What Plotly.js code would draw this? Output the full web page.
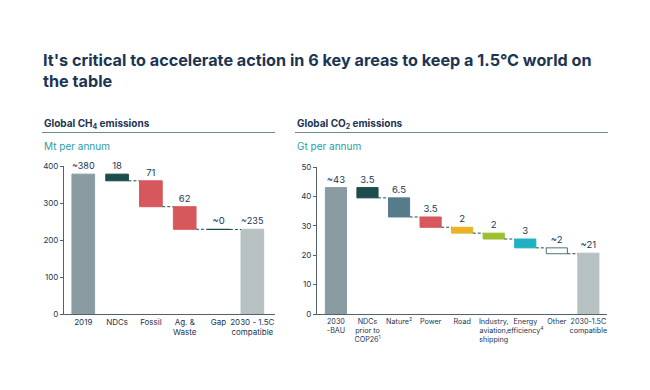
<!DOCTYPE html>
<html>
<head>
<meta charset="utf-8">
<script src="https://cdn.plot.ly/plotly-3.0.1.min.js"></script>
<style>html,body{margin:0;padding:0;background:#fff;}#chart{width:650px;height:390px;}</style>
</head>
<body>
<div id="chart"></div>
<script>
// ---- Data: Global CH4 emissions (Mt per annum)
const ch4Categories = ["2019", "NDCs", "Fossil", "Ag. &<br>Waste", "Gap", "2030 - 1.5C<br>compatible"];
const ch4Start = 378;
const ch4Reductions = [18, 70, 61, 0.6];
const ch4End = 229;
const ch4Labels = ["~380", "18", "71", "62", "~0", "~235"];
const ch4Colors = ["#8a9ca1", "#1d4d4b", "#d6575c", "#d6575c", "#1d4d4b", "#b7c1c1"];

// ---- Data: Global CO2 emissions (Gt per annum)
const co2Categories = ["2030<br>-BAU", "NDCs<br>prior to<br>COP26<sup>1</sup>", "Nature<sup>2</sup>", "Power", "Road",
  "Industry,<br>aviation,<br>shipping", "Energy<br>efficiency<sup>4</sup>", "Other", "2030-1.5C<br>compatible"];
const co2Start = 43;
const co2Reductions = [3.5, 6.5, 3.5, 2, 2, 3, 2];
const co2End = 20.7;
const co2Labels = ["~43", "3.5", "6.5", "3.5", "2", "2", "3", "~2", "~21"];
const co2Colors = ["#8a9ca1", "#1d4d4b", "#587b8b", "#d6575c", "#e8b425", "#9cc02f", "#1fb0c1", "#ffffff", "#b7c1c1"];

const textColor = "#1b3553";
const FONT = "Inter, 'Noto Sans', sans-serif";

function waterfall(start, reductions, end) {
  const base = [0], h = [start];
  let level = start;
  reductions.forEach(r => { base.push(level - r); h.push(r); level -= r; });
  base.push(0); h.push(end);
  return {base, h};
}

const W = 0.67;
function buildTraces(cats, start, reds, end, labels, colors, xa, ya, outlineIdx) {
  const wf = waterfall(start, reds, end);
  const xs = cats.map((c, i) => i);
  const lineColors = colors.map((c, i) => i === outlineIdx ? "#55707a" : c);
  const traces = [{
    type: "bar", x: xs, y: wf.h, base: wf.base, width: W,
    marker: {color: colors, line: {color: lineColors, width: 1}},
    text: labels, textposition: "outside", cliponaxis: false,
    textfont: {family: FONT, size: 9.5, color: textColor},
    xaxis: xa, yaxis: ya, hoverinfo: "skip", showlegend: false
  }];
  // dashed connectors between consecutive bars (from bottom of a step to top of the next)
  for (let i = 1; i < cats.length - 1; i++) {
    const lvl = wf.base[i];
    traces.push({
      type: "scatter", mode: "lines", x: [i + W / 2, i + 1 - W / 2], y: [lvl, lvl],
      line: {color: "#1d4d4b", width: 1, dash: "3px,2px"},
      xaxis: xa, yaxis: ya, hoverinfo: "skip", showlegend: false
    });
  }
  return traces;
}

const data = [
  ...buildTraces(ch4Categories, ch4Start, ch4Reductions, ch4End, ch4Labels, ch4Colors, "x", "y", -1),
  ...buildTraces(co2Categories, co2Start, co2Reductions, co2End, co2Labels, co2Colors, "x2", "y2", 7)
];

const axisCommon = {
  showgrid: false, zeroline: false, showline: true, linecolor: "#55606a", linewidth: 1,
  tickfont: {family: FONT, size: 8, color: textColor}, fixedrange: true
};

const layout = {
  width: 650, height: 390,
  margin: {l: 0, r: 0, t: 0, b: 0},
  paper_bgcolor: "#ffffff", plot_bgcolor: "#ffffff",
  bargap: 0.3,
  xaxis: Object.assign({}, axisCommon, {
    domain: [64 / 650, 275 / 650], range: [-0.57, 5.67],
    tickmode: "array", tickvals: ch4Categories.map((c, i) => i), ticktext: ch4Categories,
    ticks: "", anchor: "y", tickangle: 0
  }),
  yaxis: Object.assign({}, axisCommon, {
    domain: [(390 - 314) / 390, (390 - 166) / 390], range: [0, 400],
    tickvals: [0, 100, 200, 300, 400], ticks: "outside", ticklen: 3, tickcolor: "#55606a", anchor: "x"
  }),
  xaxis2: Object.assign({}, axisCommon, {
    domain: [317 / 650, 607 / 650], range: [-0.6, 8.59],
    tickmode: "array", tickvals: co2Categories.map((c, i) => i), ticktext: co2Categories,
    ticks: "", anchor: "y2", tickangle: 0,
    tickfont: {family: FONT, size: 7.2, color: textColor}
  }),
  yaxis2: Object.assign({}, axisCommon, {
    domain: [(390 - 314) / 390, (390 - 167) / 390], range: [0, 50],
    tickvals: [0, 10, 20, 30, 40, 50], ticks: "outside", ticklen: 3, tickcolor: "#55606a", anchor: "x2"
  }),
  annotations: [
    {text: "<b>It's critical to accelerate action in 6 key areas to keep a 1.5°C world on<br>the table</b>",
     xref: "paper", yref: "paper", x: 41 / 650, y: 1 - 48 / 390, xanchor: "left", yanchor: "top",
     align: "left", showarrow: false, font: {family: FONT, size: 16.2, color: textColor}},
    {text: "<b>Global CH<sub>4</sub> emissions</b>", xref: "paper", yref: "paper",
     x: 42 / 650, y: 1 - 115 / 390, xanchor: "left", yanchor: "top", showarrow: false,
     font: {family: FONT, size: 10, color: textColor}},
    {text: "Mt per annum", xref: "paper", yref: "paper",
     x: 42 / 650, y: 1 - 138 / 390, xanchor: "left", yanchor: "top", showarrow: false,
     font: {family: FONT, size: 10, color: "#2a9ea6"}},
    {text: "<b>Global CO<sub>2</sub> emissions</b>", xref: "paper", yref: "paper",
     x: 295 / 650, y: 1 - 115 / 390, xanchor: "left", yanchor: "top", showarrow: false,
     font: {family: FONT, size: 10, color: textColor}},
    {text: "Gt per annum", xref: "paper", yref: "paper",
     x: 295 / 650, y: 1 - 138 / 390, xanchor: "left", yanchor: "top", showarrow: false,
     font: {family: FONT, size: 10, color: "#2a9ea6"}}
  ],
  shapes: [
    {type: "line", xref: "paper", yref: "paper", x0: 42 / 650, x1: 275 / 650,
     y0: 1 - 132.5 / 390, y1: 1 - 132.5 / 390, line: {color: "#6f8a92", width: 1}},
    {type: "line", xref: "paper", yref: "paper", x0: 295 / 650, x1: 608 / 650,
     y0: 1 - 132.5 / 390, y1: 1 - 132.5 / 390, line: {color: "#6f8a92", width: 1}}
  ]
};

Plotly.newPlot("chart", data, layout, {displayModeBar: false, staticPlot: true});
</script>
</body>
</html>
